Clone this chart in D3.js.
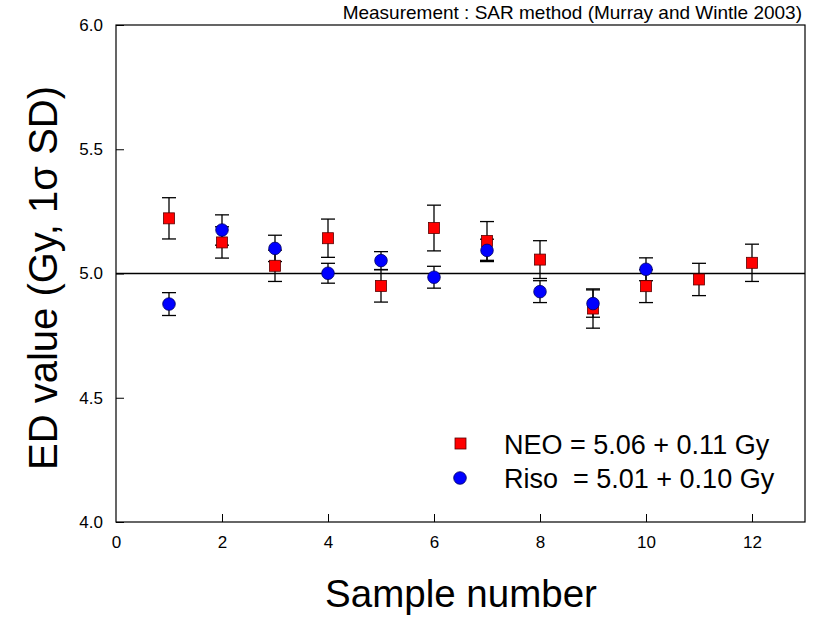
<!DOCTYPE html>
<html><head><meta charset="utf-8">
<script src="https://cdn.jsdelivr.net/npm/d3@7"></script>
<style>body{margin:0;background:#fff;} text{font-family:Arial,"Liberation Sans",sans-serif;}</style>
</head><body><svg id="c" width="825" height="621"></svg>
<script>
const samples = [1,2,3,4,5,6,7,8,9,10,11,12];
const neoValues = [5.222,5.125,5.031,5.142,4.950,5.183,5.131,5.056,4.859,4.949,4.976,5.043];
const neoErrors = [0.083,0.063,0.063,0.077,0.065,0.092,0.078,0.076,0.079,0.066,0.065,0.075];
const risoSamples = [1,2,3,4,5,6,7,8,9,10];
const risoValues = [4.877,5.175,5.101,5.001,5.052,4.985,5.093,4.927,4.879,5.017];
const risoErrors = [0.046,0.061,0.053,0.040,0.036,0.044,0.045,0.044,0.055,0.046];
const xTicks = [0,2,4,6,8,10,12];
const yTicks = [4.0,4.5,5.0,5.5,6.0];
const legendLabels = ["NEO = 5.06 + 0.11 Gy", "Riso  = 5.01 + 0.10 Gy"];

const svg = d3.select("#c");
const L=116, R=805, T=25, B=522;
const x = d3.scaleLinear().domain([0,13]).range([L,R]);
const y = d3.scaleLinear().domain([4,6]).range([B,T]);

// frame
svg.append("rect").attr("x",L).attr("y",T).attr("width",R-L).attr("height",B-T)
  .attr("fill","none").attr("stroke","#000").attr("stroke-width",1.2);

// axes
const xAxis = d3.axisBottom(x).tickValues(xTicks).tickFormat(d3.format("d")).tickSizeInner(-8).tickSizeOuter(0).tickPadding(14);
const gx = svg.append("g").attr("transform",`translate(0,${B})`).call(xAxis);
gx.select(".domain").remove();
gx.selectAll("text").attr("font-size",17).attr("fill","#000");
gx.selectAll("line").attr("stroke","#000");
gx.selectAll(".tick").filter(d=>d===0).select("line").remove();

const yAxis = d3.axisLeft(y).tickValues(yTicks).tickFormat(d3.format(".1f")).tickSizeInner(-8).tickSizeOuter(0).tickPadding(13);
const gy = svg.append("g").attr("transform",`translate(${L},0)`).call(yAxis);
gy.select(".domain").remove();
gy.selectAll("text").attr("font-size",17).attr("fill","#000");
gy.selectAll("line").attr("stroke","#000");

// reference line at 5.0
svg.append("line").attr("x1",L).attr("x2",R).attr("y1",y(5)).attr("y2",y(5))
  .attr("stroke","#000").attr("stroke-width",1.3);

// titles
svg.append("text").attr("x",802).attr("y",19).attr("text-anchor","end")
  .attr("font-size",19).text("Measurement : SAR method (Murray and Wintle 2003)");
svg.append("text").attr("x",461).attr("y",607).attr("text-anchor","middle")
  .attr("font-size",38.5).text("Sample number");
svg.append("text").attr("transform",`translate(57,278) rotate(-90)`).attr("text-anchor","middle")
  .attr("font-size",40).text("ED value (Gy, 1σ SD)");

function errBars(xs, vs, es){
  const g = svg.append("g").attr("stroke","#000").attr("stroke-width",1.3);
  xs.forEach((s,i)=>{
    const cx=x(s), y1=y(vs[i]+es[i]), y2=y(vs[i]-es[i]);
    g.append("line").attr("x1",cx).attr("x2",cx).attr("y1",y1).attr("y2",y2);
    g.append("line").attr("x1",cx-7).attr("x2",cx+7).attr("y1",y1).attr("y2",y1);
    g.append("line").attr("x1",cx-7).attr("x2",cx+7).attr("y1",y2).attr("y2",y2);
  });
}
errBars(samples, neoValues, neoErrors);
errBars(risoSamples, risoValues, risoErrors);

// NEO squares
svg.append("g").selectAll("rect").data(samples).join("rect")
  .attr("x",(d)=>x(d)-5.5).attr("y",(d,i)=>y(neoValues[i])-5.5)
  .attr("width",11).attr("height",11).attr("fill","#ff0000").attr("stroke","#5a0000").attr("stroke-width",0.8);
// Riso circles
svg.append("g").selectAll("circle").data(risoSamples).join("circle")
  .attr("cx",d=>x(d)).attr("cy",(d,i)=>y(risoValues[i])).attr("r",6.3)
  .attr("fill","#0000ff").attr("stroke","#000060").attr("stroke-width",0.8);

// legend
svg.append("rect").attr("x",455).attr("y",438).attr("width",11).attr("height",11)
  .attr("fill","#ff0000").attr("stroke","#5a0000").attr("stroke-width",0.8);
svg.append("circle").attr("cx",460).attr("cy",478).attr("r",6.3)
  .attr("fill","#0000ff").attr("stroke","#000060").attr("stroke-width",0.8);
svg.append("text").attr("x",504).attr("y",454).attr("font-size",27).attr("xml:space","preserve").text(legendLabels[0]);
svg.append("text").attr("x",504).attr("y",488).attr("font-size",27).attr("xml:space","preserve").text(legendLabels[1]);
</script></body></html>
